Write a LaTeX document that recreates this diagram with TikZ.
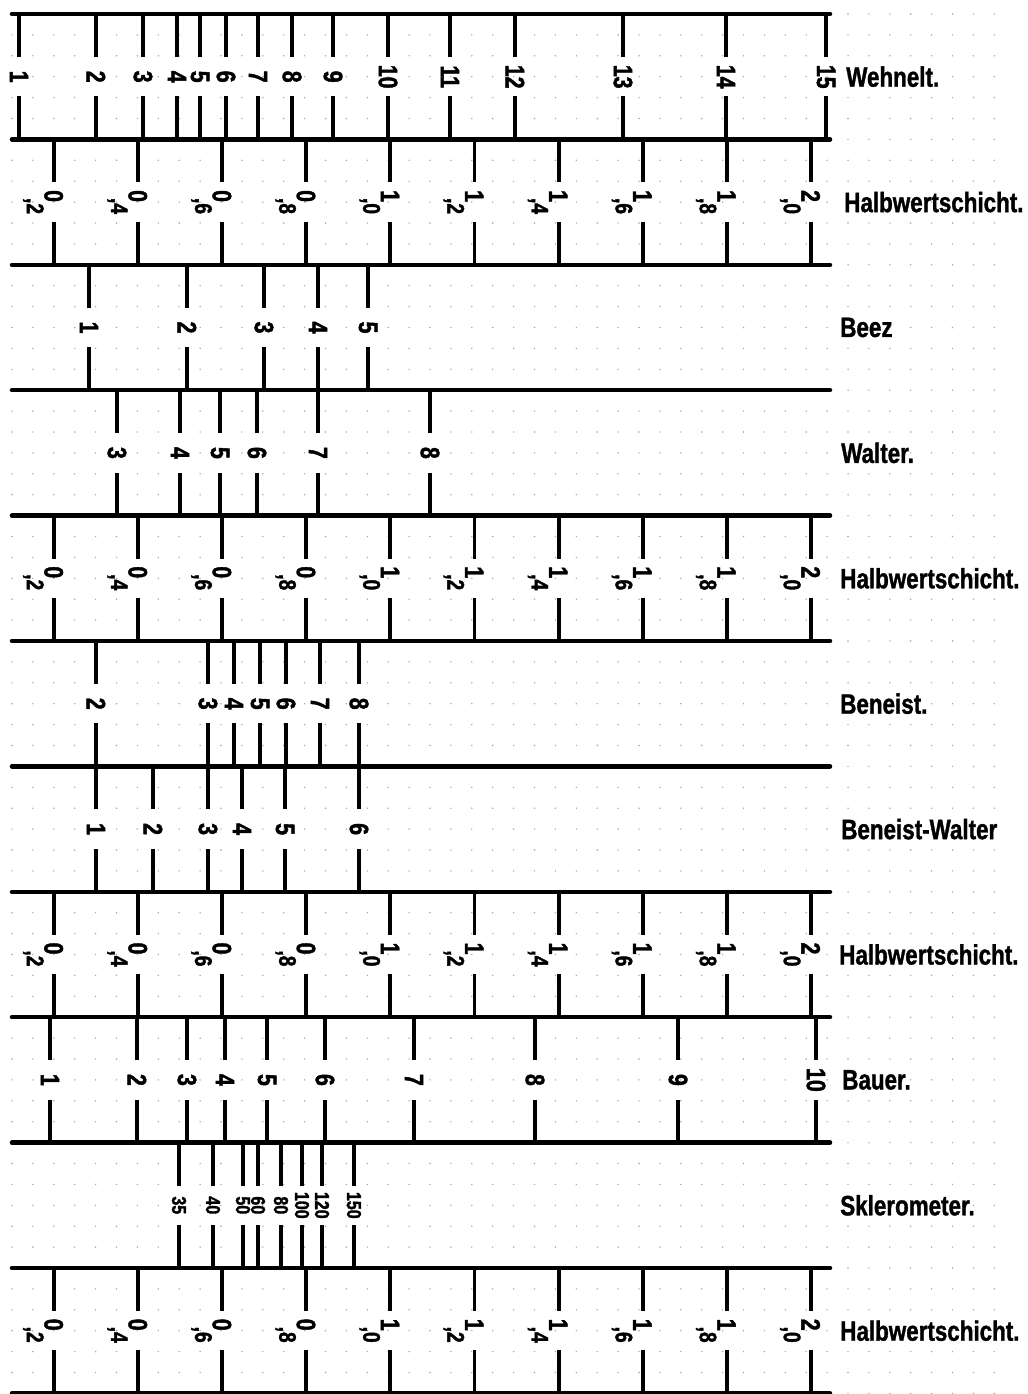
\documentclass[tikz,border=0pt]{standalone}
\usepackage{fontspec}
\newfontfamily\condfont[FakeStretch=0.8,FakeBold=1.6]{Liberation Sans}
\newfontfamily\labcondfont[FakeStretch=0.8,FakeBold=1.2]{Liberation Sans}
\newcommand\numfnt{\condfont\bfseries\fontsize{20}{20}\selectfont}
\newcommand\labfnt{\labcondfont\bfseries\fontsize{21}{21}\selectfont}
\newcommand\smallfnt{\condfont\bfseries\fontsize{15}{15}\selectfont}
\newcommand\hwl[2]{#1\raisebox{-0.66em}{\kern-0.15em\fontsize{18}{18}\selectfont,#2}}
\tikzset{
  hline/.style={line width=3.4pt, line cap=round},
  tk/.style={line width=2.9pt},
  num/.style={font=\numfnt, rotate=-90, inner sep=0pt, anchor=center},
  hwnum/.style={font=\numfnt, rotate=-90, inner sep=0pt, anchor=base},
  snum/.style={font=\smallfnt, rotate=-90, inner sep=0pt, anchor=center},
  lab/.style={font=\labfnt, anchor=west, inner sep=0pt},
  dotc/.style={fill=black!35},
}
% ticks of a band: #1 = top y, #2 = list of x
\newcommand\bandticks[2]{%
  \foreach \x in {#2}{%
    \draw[tk] (\x,#1) -- ++(0,43);
    \draw[tk] (\x,#1+125.4) -- ++(0,-43);
  }}
% numbered labels of a band: #1 = id, #2 = centre y, #3 = list x/label, #4 = style
\newcommand\bandlabels[4]{%
  \foreach \x/\l [count=\i] in {#3}{%
    \node[#4] (#1-\i) at (\x,#2) {\l};
  }}
% Halbwertschicht band: #1 = id, #2 = top y
\newcommand\hwsrow[2]{%
  \foreach \a/\b [count=\i] in {0/2,0/4,0/6,0/8,1/0,1/2,1/4,1/6,1/8,2/0}{%
    \pgfmathsetmacro\xx{54+84.1*(\i-1)}
    \draw[tk] (\xx,#2) -- ++(0,43);
    \draw[tk] (\xx,#2+125.4) -- ++(0,-43);
    \node[hwnum] (#1-\i) at (\xx-9.5,#2+62.7) {\hwl{\a}{\b}};
  }}
\begin{document}
\begin{tikzpicture}[x=0.75pt,y=-0.75pt]
\useasboundingbox (0,0) rectangle (1027,1394);
\fill[white] (0,0) rectangle (1027,1394);
% faint dot grid of the paper
\foreach \i in {0,...,47}{
  \foreach \j in {0,...,66}{
    \fill[dotc] (12+20.9*\i,14+20.9*\j) circle (0.6pt);
  }}
% horizontal rules
\foreach \k in {0,...,11}{
  \draw[hline] (12,14+125.4*\k) -- (830,14+125.4*\k);
}
% Wehnelt
\bandticks{14}{19,96,143,177,200,226,258,292,333,388,450,515,623,726,826}
\bandlabels{weh}{76.7}{19/1,96/2,143/3,177/4,200/5,226/6,258/7,292/8,333/9,388/10,450/11,515/12,623/13,726/14,826/15}{num}
\node[lab] (lweh) at (846,76.7) {Wehnelt.};
% Halbwertschicht 1
\hwsrow{hwa}{139.4}
\node[lab] (lhwa) at (844,202.1) {Halbwertschicht.};
% Beez
\bandticks{264.8}{89,187,264,318,368}
\bandlabels{beez}{327.5}{89/1,187/2,264/3,318/4,368/5}{num}
\node[lab] (lbeez) at (840,327.5) {Beez};
% Walter
\bandticks{390.2}{117,180,220,257,318,430}
\bandlabels{wal}{452.9}{117/3,180/4,220/5,257/6,318/7,430/8}{num}
\node[lab] (lwal) at (841,452.9) {Walter.};
% Halbwertschicht 2
\hwsrow{hwb}{515.6}
\node[lab] (lhwb) at (840,578.3) {Halbwertschicht.};
% Beneist
\bandticks{641}{96,208,234,260,286,320,359}
\bandlabels{ben}{703.7}{96/2,208/3,234/4,260/5,286/6,320/7,359/8}{num}
\node[lab] (lben) at (840,703.7) {Beneist.};
% Beneist-Walter
\bandticks{766.4}{96,153,208,242,285,359}
\bandlabels{bw}{829.1}{96/1,153/2,208/3,242/4,285/5,359/6}{num}
\node[lab] (lbw) at (841,829.1) {Beneist-Walter};
% Halbwertschicht 3
\hwsrow{hwc}{891.8}
\node[lab] (lhwc) at (839,954.5) {Halbwertschicht.};
% Bauer
\bandticks{1017.2}{50,137,187,225,267,325,414,535,678,816}
\bandlabels{bau}{1079.9}{50/1,137/2,187/3,225/4,267/5,325/6,414/7,535/8,678/9,816/10}{num}
\node[lab] (lbau) at (842,1079.9) {Bauer.};
% Sklerometer
\bandticks{1142.6}{179,213,243,258,281,302,322,354}
\bandlabels{skl}{1205.3}{179/35,213/40,243/50,258/60,281/80,302/100,322/120,354/150}{snum}
\node[lab] (lskl) at (840,1205.3) {Sklerometer.};
% Halbwertschicht 4
\hwsrow{hwd}{1268}
\node[lab] (lhwd) at (840,1330.7) {Halbwertschicht.};
\end{tikzpicture}
\end{document}
